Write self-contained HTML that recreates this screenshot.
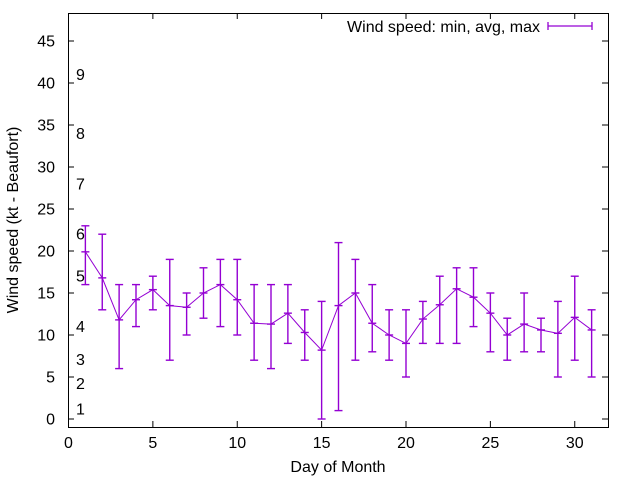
<!DOCTYPE html>
<html><head><meta charset="utf-8"><style>
body{margin:0;background:#fff}
svg text{font-family:"Liberation Sans",sans-serif;font-size:16px;fill:#000}
</style></head><body>
<svg id="c" width="640" height="480">
<rect x="68.5" y="13.5" width="540" height="414" fill="none" stroke="#000"/>
<g id="ax"></g><g id="bf"></g><g id="ser"></g>
<text x="338" y="472" text-anchor="middle">Day of Month</text>
<text transform="translate(18,220) rotate(-90)" text-anchor="middle">Wind speed (kt - Beaufort)</text>
<g>
<text x="540" y="32" text-anchor="end">Wind speed: min, avg, max</text>
<line x1="548" y1="26" x2="592" y2="26" stroke="#9400d3" stroke-width="1.3"/>
<line x1="548" y1="22" x2="548" y2="30" stroke="#9400d3" stroke-width="1.3"/>
<line x1="592" y1="22" x2="592" y2="30" stroke="#9400d3" stroke-width="1.3"/>
</g>
</svg>
<script>
const days=[1,2,3,4,5,6,7,8,9,10,11,12,13,14,15,16,17,18,19,20,21,22,23,24,25,26,27,28,29,30,31];
const avgs=[19.9,16.8,11.8,14.2,15.4,13.5,13.3,15,16,14.2,11.4,11.3,12.6,10.3,8.2,13.5,15,11.4,10,9,11.9,13.6,15.5,14.5,12.6,10,11.3,10.6,10.2,12.1,10.6];
const mins=[16,13,6,11,13,7,10,12,11,10,7,6,9,7,0,1,7,8,7,5,9,9,9,11,8,7,8,8,5,7,5];
const maxs=[23,22,16,16,17,19,15,18,19,19,16,16,16,13,14,21,19,16,13,13,14,17,18,18,15,12,15,12,14,17,13];
const xTicks=[0,5,10,15,20,25,30];
const yTicks=[0,5,10,15,20,25,30,35,40,45];
const bfLabels=["1","2","3","4","5","6","7","8","9"];
const bfVals=[1.2,4.2,7.1,11,17,22,28,34,41];
const X=v=>68.5+v*540/32, Y=v=>419-v*8.4;
const NS="http://www.w3.org/2000/svg";
function mk(t,a,p){const e=document.createElementNS(NS,t);for(const k in a)e.setAttribute(k,a[k]);p.appendChild(e);return e;}
const ax=document.getElementById('ax');
xTicks.forEach(v=>{const g=mk('g',{},ax);


mk('line',{x1:X(v),y1:427,x2:X(v),y2:421,stroke:'#000'},g);
mk('line',{x1:X(v),y1:13,x2:X(v),y2:19,stroke:'#000'},g);
const t=mk('text',{x:X(v),y:448,'text-anchor':'middle'},g);t.textContent=v;});
yTicks.forEach(v=>{const g=mk('g',{},ax);


mk('line',{x1:68,y1:Y(v),x2:74,y2:Y(v),stroke:'#000'},g);
mk('line',{x1:608,y1:Y(v),x2:602,y2:Y(v),stroke:'#000'},g);
const t=mk('text',{x:55,y:Y(v)+5.5,'text-anchor':'end'},g);t.textContent=v;});
const bf=document.getElementById('bf');
bfLabels.forEach((s,i)=>{const t=mk('text',{x:76,y:Y(bfVals[i])+5.5},bf);


t.textContent=s;});
const ser=document.getElementById('ser');
const pts=days.map((d,i)=>X(d)+','+Y(avgs[i])).join(' ');
const pl=mk('polyline',{points:pts,fill:'none',stroke:'#9400d3'},ser);


days.forEach((d,i)=>{const g=mk('g',{stroke:'#9400d3','stroke-width':1.4},ser);


const x=X(d);
mk('line',{x1:x,y1:Y(mins[i]),x2:x,y2:Y(maxs[i])},g);
mk('line',{x1:x-4,y1:Y(mins[i]),x2:x+4,y2:Y(mins[i])},g);
mk('line',{x1:x-4,y1:Y(maxs[i]),x2:x+4,y2:Y(maxs[i])},g);
mk('line',{x1:x-4,y1:Y(avgs[i]),x2:x+4,y2:Y(avgs[i])},g);});
</script>
</body></html>
